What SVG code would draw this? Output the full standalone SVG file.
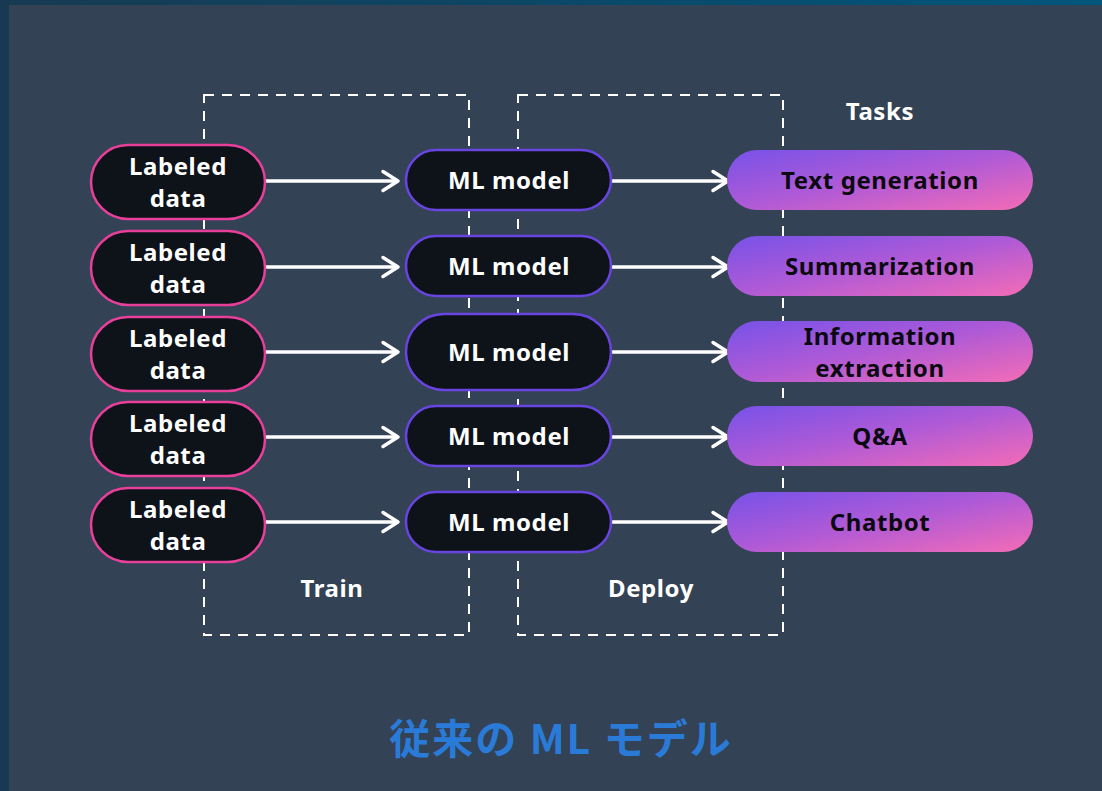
<svg xmlns="http://www.w3.org/2000/svg" width="1102" height="791" viewBox="0 0 1102 791">
  <defs>
    <linearGradient id="frameTop" x1="0" y1="0" x2="1" y2="0">
      <stop offset="0" stop-color="#173a52"/>
      <stop offset="1" stop-color="#00567c"/>
    </linearGradient>
    <linearGradient id="taskFill" x1="0" y1="0" x2="1" y2="1">
      <stop offset="0" stop-color="#7752e8"/>
      <stop offset="0.5" stop-color="#b05ad6"/>
      <stop offset="1" stop-color="#f46cb6"/>
    </linearGradient>
    <marker id="chev" viewBox="0 0 24 24" refX="20" refY="12" markerWidth="24" markerHeight="24" markerUnits="userSpaceOnUse" orient="auto">
      <path d="M5 2.5 L20 12 L5 21.5" fill="none" stroke="#ffffff" stroke-width="3.5" stroke-linecap="round" stroke-linejoin="round"/>
    </marker>
    <style>
      .data rect { fill: #0e1219; stroke: #e8409a; stroke-width: 2.5; }
      .model rect { fill: #0e1219; stroke: #6845e0; stroke-width: 2.5; }
      .task rect { fill: url(#taskFill); }
      .lbl { font-family: "Noto Sans", "Open Sans", sans-serif; font-weight: 700; font-size: 24px; letter-spacing: 0.6px; text-anchor: middle; }
      .white { fill: #ffffff; }
      .dark { fill: #0a0a10; }
      .stage { fill: none; stroke: #ffffff; stroke-width: 2; stroke-dasharray: 10 8; }
      .conn { fill: none; stroke: #ffffff; stroke-width: 3.5; marker-end: url(#chev); }
    </style>
  </defs>

  <!-- backdrop -->
  <rect x="0" y="0" width="1102" height="791" fill="#173a52"/>
  <rect x="0" y="0" width="1102" height="5" fill="url(#frameTop)"/>
  <rect x="9" y="5" width="1093" height="786" fill="#344256"/>

  <!-- stage frames -->
  <g id="train-stage">
    <rect class="stage" x="204" y="95" width="265" height="540"/>
    <text class="lbl white" x="332" y="597">Train</text>
  </g>
  <g id="deploy-stage">
    <rect class="stage" x="518" y="95" width="265" height="540"/>
    <text class="lbl white" x="651" y="597">Deploy</text>
  </g>
  <g id="tasks-heading">
    <text class="lbl white" x="880" y="120">Tasks</text>
  </g>

  <!-- connectors -->
  <g id="connectors">
    <path class="conn" d="M266 181 H398"/>
    <path class="conn" d="M266 267 H398"/>
    <path class="conn" d="M266 352 H398"/>
    <path class="conn" d="M266 437 H398"/>
    <path class="conn" d="M266 522 H398"/>
    <path class="conn" d="M612 181 H728"/>
    <path class="conn" d="M612 267 H728"/>
    <path class="conn" d="M612 352 H728"/>
    <path class="conn" d="M612 437 H728"/>
    <path class="conn" d="M612 522 H728"/>
  </g>

  <!-- labeled data -->
  <g id="data-1" class="data">
    <rect x="91" y="145" width="174" height="74" rx="37"/>
    <text class="lbl white" x="178" y="175">Labeled</text>
    <text class="lbl white" x="178" y="207">data</text>
  </g>
  <g id="data-2" class="data">
    <rect x="91" y="231" width="174" height="74" rx="37"/>
    <text class="lbl white" x="178" y="261">Labeled</text>
    <text class="lbl white" x="178" y="293">data</text>
  </g>
  <g id="data-3" class="data">
    <rect x="91" y="317" width="174" height="74" rx="37"/>
    <text class="lbl white" x="178" y="347">Labeled</text>
    <text class="lbl white" x="178" y="379">data</text>
  </g>
  <g id="data-4" class="data">
    <rect x="91" y="402" width="174" height="74" rx="37"/>
    <text class="lbl white" x="178" y="432">Labeled</text>
    <text class="lbl white" x="178" y="464">data</text>
  </g>
  <g id="data-5" class="data">
    <rect x="91" y="488" width="174" height="74" rx="37"/>
    <text class="lbl white" x="178" y="518">Labeled</text>
    <text class="lbl white" x="178" y="550">data</text>
  </g>

  <!-- models -->
  <g id="model-1" class="model">
    <rect x="406" y="150" width="205" height="60" rx="30"/>
    <text class="lbl white" x="509" y="189">ML model</text>
  </g>
  <g id="model-2" class="model">
    <rect x="406" y="236" width="205" height="60" rx="30"/>
    <text class="lbl white" x="509" y="275">ML model</text>
  </g>
  <g id="model-3" class="model">
    <rect x="406" y="314" width="205" height="76" rx="38"/>
    <text class="lbl white" x="509" y="361">ML model</text>
  </g>
  <g id="model-4" class="model">
    <rect x="406" y="406" width="205" height="60" rx="30"/>
    <text class="lbl white" x="509" y="445">ML model</text>
  </g>
  <g id="model-5" class="model">
    <rect x="406" y="492" width="205" height="60" rx="30"/>
    <text class="lbl white" x="509" y="531">ML model</text>
  </g>

  <!-- tasks -->
  <g id="task-text-generation" class="task">
    <rect x="727" y="150" width="306" height="60" rx="30"/>
    <text class="lbl dark" x="880" y="189">Text generation</text>
  </g>
  <g id="task-summarization" class="task">
    <rect x="727" y="236" width="306" height="60" rx="30"/>
    <text class="lbl dark" x="880" y="275">Summarization</text>
  </g>
  <g id="task-information-extraction" class="task">
    <rect x="727" y="321" width="306" height="61" rx="30"/>
    <text class="lbl dark" x="880" y="345">Information</text>
    <text class="lbl dark" x="880" y="377">extraction</text>
  </g>
  <g id="task-qa" class="task">
    <rect x="727" y="406" width="306" height="60" rx="30"/>
    <text class="lbl dark" x="880" y="445">Q&amp;A</text>
  </g>
  <g id="task-chatbot" class="task">
    <rect x="727" y="492" width="306" height="60" rx="30"/>
    <text class="lbl dark" x="880" y="531">Chatbot</text>
  </g>

  <!-- caption -->
  <g id="caption">
    <text x="561" y="754" font-family="'Noto Sans CJK JP', 'Noto Sans', sans-serif" font-weight="700" font-size="41" letter-spacing="2" fill="#2a7bd8" text-anchor="middle">従来の ML モデル</text>
  </g>
</svg>
